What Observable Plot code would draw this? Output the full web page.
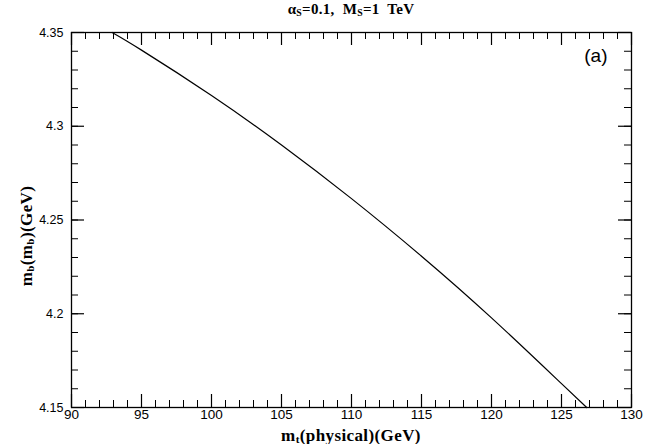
<!DOCTYPE html>
<html>
<head>
<meta charset="utf-8">
<script src="https://cdn.jsdelivr.net/npm/d3@7"></script>
<script src="https://cdn.jsdelivr.net/npm/@observablehq/plot@0.6"></script>
<style>
  html, body { margin: 0; padding: 0; background: #fff; }
  #wrap { position: relative; width: 654px; height: 444px; overflow: hidden; }
  .lbl { position: absolute; font-family: "Liberation Serif", "DejaVu Serif", serif; color: #000; white-space: nowrap; line-height: 1; }
  .lbl sub { font-size: 65%; vertical-align: -0.2em; line-height: 0; }
</style>
</head>
<body>
<div id="wrap"></div>
<script>
// Curve data: top mass vs bottom mass
const mt = [92.9, 95, 100, 105, 110, 115, 120, 125, 126.8];
const mb = [4.3500, 4.3406, 4.3164, 4.2900, 4.2614, 4.2307, 4.1978, 4.1627, 4.1500];

// Tick values
const xMajor = [90, 95, 100, 105, 110, 115, 120, 125, 130];
const xMinor = [90,91,92,93,94,95,96,97,98,99,100,101,102,103,104,105,106,107,108,109,110,111,112,113,114,115,116,117,118,119,120,121,122,123,124,125,126,127,128,129,130];
const yMajor = [4.15, 4.2, 4.25, 4.3, 4.35];
const yMinor = [4.15,4.16,4.17,4.18,4.19,4.2,4.21,4.22,4.23,4.24,4.25,4.26,4.27,4.28,4.29,4.3,4.31,4.32,4.33,4.34,4.35];
const yLabels = ["4.15", "4.2", "4.25", "4.3", "4.35"];

const W = 654, H = 444;
const mL = 71, mR = 23, mT = 32, mB = 37;
const fw = W - mL - mR, fh = H - mT - mB;
const minorLen = 7, majorLen = 13;

const data = mt.map((x, i) => ({x, y: mb[i]}));

const chart = Plot.plot({
  width: W,
  height: H,
  marginLeft: mL,
  marginRight: mR,
  marginTop: mT,
  marginBottom: mB,
  style: {fontFamily: "'Liberation Sans', Arial, sans-serif", fontSize: "12px", background: "#fff", color: "#000"},
  x: {domain: [90, 130]},
  y: {domain: [4.15, 4.35]},
  marks: [
    // bottom ticks
    Plot.ruleX(xMinor, {x: d => d, insetTop: fh - minorLen, stroke: "black", strokeWidth: 1}),
    Plot.ruleX(xMajor, {x: d => d, insetTop: fh - majorLen, stroke: "black", strokeWidth: 1.2}),
    // top ticks
    Plot.ruleX(xMinor, {x: d => d, insetBottom: fh - minorLen, stroke: "black", strokeWidth: 1}),
    Plot.ruleX(xMajor, {x: d => d, insetBottom: fh - majorLen, stroke: "black", strokeWidth: 1.2}),
    // left ticks
    Plot.ruleY(yMinor, {y: d => d, insetRight: fw - minorLen, stroke: "black", strokeWidth: 1}),
    Plot.ruleY(yMajor, {y: d => d, insetRight: fw - majorLen, stroke: "black", strokeWidth: 1.2}),
    // right ticks
    Plot.ruleY(yMinor, {y: d => d, insetLeft: fw - minorLen, stroke: "black", strokeWidth: 1}),
    Plot.ruleY(yMajor, {y: d => d, insetLeft: fw - majorLen, stroke: "black", strokeWidth: 1.2}),
    Plot.axisX(xMajor, {anchor: "bottom", tickSize: 0, tickPadding: 2, label: null, fontSize: 13.5, fill: "black"}),
    Plot.axisY(yMajor, {anchor: "left", tickSize: 0, tickPadding: 8, label: null, fontSize: 12.5, fill: "black",
      tickFormat: (d) => yLabels[yMajor.indexOf(d)]}),
    Plot.frame({stroke: "black", strokeWidth: 1.3}),
    Plot.line(data, {x: "x", y: "y", curve: "natural", stroke: "black", strokeWidth: 1.2}),
    Plot.text(["(a)"], {frameAnchor: "top-right", dx: -24, dy: 16, fontSize: 19, letterSpacing: "2px", fontFamily: "'Liberation Sans', Arial, sans-serif", textAnchor: "end", lineAnchor: "top", fill: "black"})
  ]
});

const wrap = document.getElementById("wrap");
wrap.appendChild(chart);

function addLabel(html, style) {
  const d = document.createElement("div");
  d.className = "lbl";
  d.innerHTML = html;
  Object.assign(d.style, style);
  wrap.appendChild(d);
  return d;
}

// Title
addLabel("&alpha;<sub>S</sub>=0.1,&nbsp; M<sub>S</sub>=1&nbsp; TeV",
  {left: (mL + fw / 2) + "px", top: "2px", transform: "translateX(-50%)", fontSize: "15px", fontWeight: "bold", letterSpacing: "0.3px"});
// X axis title
addLabel("m<sub>t</sub>(physical)(GeV)",
  {left: (mL + fw / 2) + "px", top: "427px", transform: "translateX(-50%)", fontSize: "17px", fontWeight: "bold", letterSpacing: "0.4px"});
// Y axis title (rotated)
addLabel("m<sub>b</sub>(m<sub>b</sub>)(GeV)",
  {left: "26px", top: "236px", transform: "translate(-50%, -50%) rotate(-90deg)", fontSize: "17px", fontWeight: "bold", letterSpacing: "0.4px"});
</script>
</body>
</html>
